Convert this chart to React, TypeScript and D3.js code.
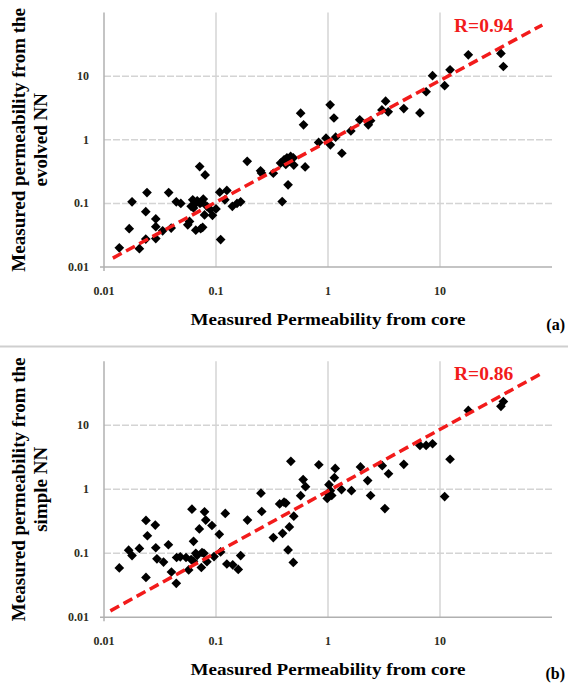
import React from 'react';
import * as d3 from 'd3';

const W = 568;
const H = 684;

const tickValues = [0.01, 0.1, 1, 10];
const tickLabels = ['0.01', '0.1', '1', '10'];
const gridValues = [0.1, 1, 10];

// Panel (a): measured permeability from core vs. evolved NN
const coreA = [
  0.0137, 0.0168, 0.0178, 0.0207, 0.0236, 0.0242, 0.0236, 0.029, 0.029, 0.029,
  0.0334, 0.0378, 0.0398, 0.0442, 0.0485, 0.056, 0.058, 0.062, 0.063, 0.065,
  0.066, 0.0715, 0.073, 0.076, 0.072, 0.077, 0.08, 0.079, 0.083, 0.089,
  0.093, 0.11, 0.108, 0.12, 0.125, 0.14, 0.154, 0.166, 0.19, 0.25,
  0.255, 0.325, 0.39, 0.377, 0.405, 0.42, 0.44, 0.464, 0.495, 0.49,
  0.57, 0.605, 0.625, 0.825, 0.96, 1.045, 1.05, 1.13, 1.17, 1.33,
  1.6, 1.92, 2.29, 2.4, 3.03, 3.27, 3.45, 4.75, 6.62, 7.52,
  8.58, 11.0, 12.3, 17.9, 35.0, 36.8, 0.068, 0.075, 0.06, 0.45,
  0.43, 0.1,
];
const evolvedNN = [
  0.02, 0.04, 0.106, 0.0194, 0.074, 0.148, 0.0275, 0.057, 0.043, 0.028,
  0.037, 0.148, 0.041, 0.106, 0.1, 0.046, 0.052, 0.114, 0.085, 0.098,
  0.038, 0.38, 0.04, 0.042, 0.1, 0.117, 0.28, 0.066, 0.09, 0.08,
  0.065, 0.027, 0.15, 0.114, 0.16, 0.09, 0.1, 0.106, 0.458, 0.325,
  0.3, 0.298, 0.107, 0.43, 0.485, 0.41, 0.196, 0.547, 0.4, 0.52,
  2.62, 1.72, 0.375, 0.91, 1.06, 3.55, 0.835, 2.2, 1.1, 0.615,
  1.38, 2.06, 1.72, 2.0, 2.95, 4.05, 2.75, 3.1, 2.65, 5.7,
  10.2, 7.1, 12.6, 21.7, 22.8, 14.2, 0.11, 0.105, 0.09, 0.46,
  0.52, 0.082,
];
const trendAX = [0.012, 82];
const trendAY = [0.0138, 64];

// Panel (b): measured permeability from core vs. simple NN
const coreB = [
  0.0137, 0.0166, 0.0178, 0.0207, 0.0237, 0.0244, 0.0237, 0.0287, 0.029, 0.0297,
  0.034, 0.0376, 0.04, 0.0442, 0.0445, 0.048, 0.054, 0.057, 0.061, 0.063,
  0.063, 0.068, 0.071, 0.074, 0.075, 0.079, 0.081, 0.083, 0.092, 0.096,
  0.107, 0.11, 0.121, 0.125, 0.141, 0.158, 0.166, 0.191, 0.252, 0.256,
  0.325, 0.37, 0.393, 0.405, 0.42, 0.44, 0.452, 0.466, 0.49, 0.495,
  0.57, 0.6, 0.63, 0.828, 0.985, 1.02, 1.08, 1.14, 1.16, 1.32,
  1.62, 1.95, 2.26, 2.4, 3.05, 3.22, 3.47, 4.75, 6.62, 7.52,
  8.58, 11.0, 12.3, 17.9, 35.0, 36.8, 0.06, 0.066, 0.078, 1.0,
  1.05,
];
const simpleNN = [
  0.059, 0.112, 0.092, 0.119, 0.326, 0.188, 0.042, 0.276, 0.122, 0.082,
  0.073, 0.136, 0.051, 0.034, 0.086, 0.088, 0.086, 0.055, 0.49, 0.154,
  0.075, 0.093, 0.24, 0.06, 0.103, 0.445, 0.33, 0.074, 0.272, 0.089,
  0.198, 0.105, 0.42, 0.068, 0.066, 0.056, 0.092, 0.33, 0.87, 0.45,
  0.176, 0.59, 0.205, 0.63, 0.61, 0.113, 0.258, 2.74, 0.072, 0.38,
  0.795, 1.42, 1.1, 2.42, 0.72, 1.18, 0.8, 1.52, 2.12, 0.99,
  0.95, 2.24, 1.37, 0.8, 2.34, 0.5, 1.75, 2.46, 4.85, 4.85,
  5.15, 0.77, 2.95, 17.1, 19.8, 23.5, 0.08, 0.1, 0.1, 0.85,
  0.95,
];
const trendBX = [0.0114, 82];
const trendBY = [0.0126, 65.6];

const SERIF = '"Liberation Serif", "Times New Roman", serif';

type PanelProps = {
  xs: number[];
  ys: number[];
  tx: number[];
  ty: number[];
  rLabel: string;
  yTitle: string[];
  tag: string;
  top: number;
  bottom: number;
  tagDy: number;
};

function Panel({ xs, ys, tx, ty, rLabel, yTitle, tag, top, bottom, tagDy }: PanelProps) {
  const left = 104;
  const right = 552;
  const x = d3.scaleLog().domain([0.01, 100]).range([left, right]);
  const y = d3.scaleLog().domain([0.01, 100]).range([bottom, top]);
  const line = d3
    .line<number>()
    .x((d) => x(tx[d]))
    .y((d) => y(ty[d]));
  const diamond = d3.symbol().type(d3.symbolDiamond2).size(60)();
  const midY = (top + bottom) / 2;
  return (
    <g>
      {gridValues.map((v) => (
        <line key={'v' + v} x1={x(v)} x2={x(v)} y1={top} y2={bottom} stroke="#d4d4d4" strokeWidth={1.5} />
      ))}
      {gridValues.map((v) => (
        <line
          key={'h' + v}
          x1={left}
          x2={right}
          y1={y(v)}
          y2={y(v)}
          stroke="#d4d4d4"
          strokeWidth={1.5}
          strokeDasharray="7,2"
        />
      ))}
      <line x1={left} x2={left} y1={top} y2={bottom + 4} stroke="#b0b0b0" strokeWidth={1.5} />
      <line x1={left - 4} x2={right} y1={bottom} y2={bottom} stroke="#b0b0b0" strokeWidth={1.5} />
      {tickValues.map((v, i) => (
        <text
          key={'yt' + v}
          x={left - 15}
          y={y(v) + 4}
          textAnchor="end"
          fontFamily={SERIF}
          fontWeight="bold"
          fontSize={12}
          fill="#2e2e22"
        >
          {tickLabels[i]}
        </text>
      ))}
      {tickValues.map((v, i) => (
        <text
          key={'xt' + v}
          x={x(v)}
          y={bottom + 28}
          textAnchor="middle"
          fontFamily={SERIF}
          fontWeight="bold"
          fontSize={12}
          fill="#2e2e22"
        >
          {tickLabels[i]}
        </text>
      ))}
      {xs.map((v, i) => (
        <path key={'p' + i} d={diamond || ''} transform={`translate(${x(v)},${y(ys[i])})`} fill="#000" />
      ))}
      <path
        d={line(tx.map((_, i) => i)) || ''}
        fill="none"
        stroke="#f21b1b"
        strokeWidth={3.5}
        strokeDasharray="10,5"
      />
      <text x={454} y={top + 19} fontFamily={SERIF} fontWeight="bold" fontSize={19.5} fill="#f21b1b">
        {rLabel}
      </text>
      <text
        x={(left + right) / 2}
        y={bottom + 58}
        textAnchor="middle"
        fontFamily={SERIF}
        fontWeight="bold"
        fontSize={17}
        textLength={275}
        lengthAdjust="spacingAndGlyphs"
        fill="#000"
      >
        Measured Permeability from core
      </text>
      <text
        x={565}
        y={bottom + tagDy}
        textAnchor="end"
        fontFamily={SERIF}
        fontWeight="bold"
        fontSize={16}
        fill="#000"
      >
        {tag}
      </text>
      {yTitle.map((t, i) => (
        <text
          key={'ytl' + i}
          transform={`translate(${25 + i * 22},${midY}) rotate(-90)`}
          textAnchor="middle"
          fontFamily={SERIF}
          fontWeight="bold"
          fontSize={19}
          fill="#000"
        >
          {t}
        </text>
      ))}
    </g>
  );
}

export default function App() {
  return (
    <svg
      width={W}
      height={H}
      style={{ position: 'absolute', left: 0, top: 0, background: '#fff' }}
      xmlns="http://www.w3.org/2000/svg"
    >
      <rect width={W} height={H} fill="#fff" />
      <Panel
        xs={coreA}
        ys={evolvedNN}
        tx={trendAX}
        ty={trendAY}
        rLabel="R=0.94"
        yTitle={['Measured permeability from the', 'evolved NN']}
        tag="(a)"
        top={12.6}
        bottom={267}
        tagDy={63}
      />
      <line x1={0} x2={W} y1={346.5} y2={346.5} stroke="#cfcfcf" strokeWidth={2} />
      <Panel
        xs={coreB}
        ys={simpleNN}
        tx={trendBX}
        ty={trendBY}
        rLabel="R=0.86"
        yTitle={['Measured permeability from the', 'simple NN']}
        tag="(b)"
        top={361.3}
        bottom={617.3}
        tagDy={62}
      />
    </svg>
  );
}
